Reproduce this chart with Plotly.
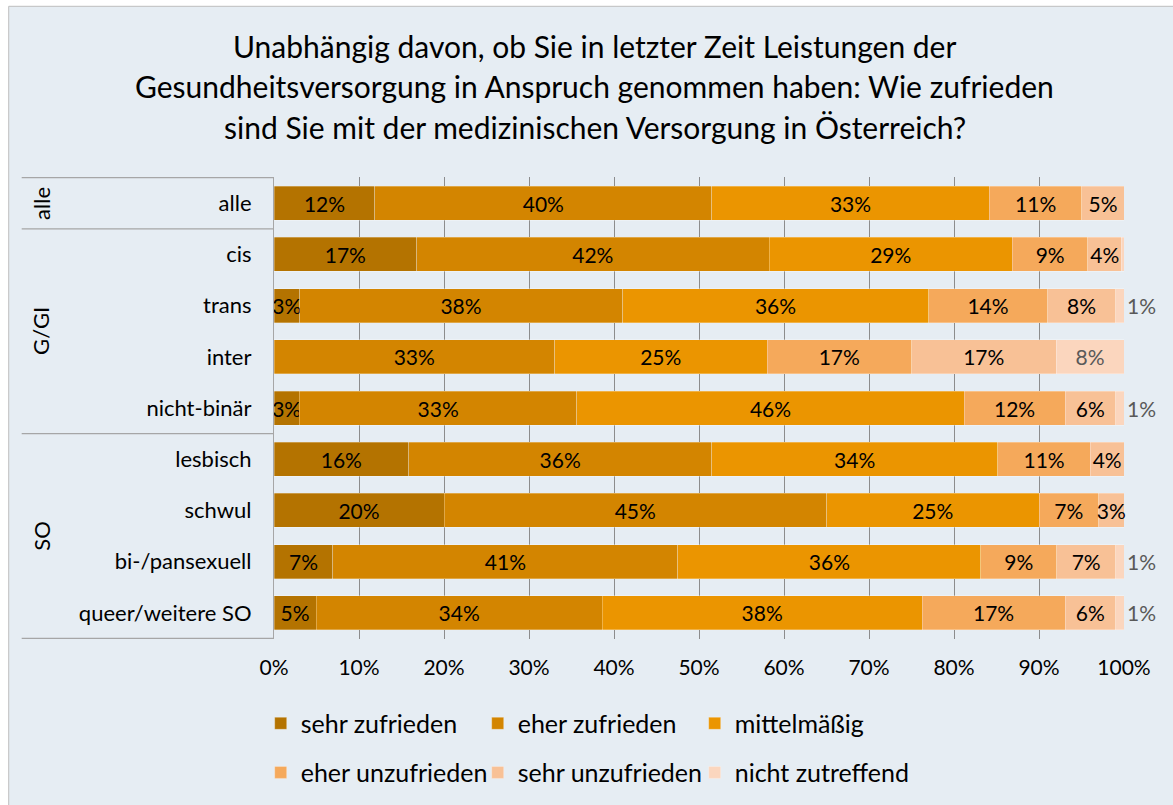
import plotly.graph_objects as go

# Rows (top to bottom) and their grouping
categories = ["alle", "cis", "trans", "inter", "nicht-binär",
              "lesbisch", "schwul", "bi-/pansexuell", "queer/weitere SO"]
group_names = ["alle", "G/GI", "SO"]
group_rows = [(0, 0), (1, 4), (5, 8)]

# Answer shares in percent per row
series_names = ["sehr zufrieden", "eher zufrieden", "mittelmäßig",
                "eher unzufrieden", "sehr unzufrieden", "nicht zutreffend"]
sehr_zufrieden = [12, 17, 3, 0, 3, 16, 20, 7, 5]
eher_zufrieden = [40, 42, 38, 33, 33, 36, 45, 41, 34]
mittelmaessig = [33, 29, 36, 25, 46, 34, 25, 36, 38]
eher_unzufrieden = [11, 9, 14, 17, 12, 11, 7, 9, 17]
sehr_unzufrieden = [5, 4, 8, 17, 6, 4, 3, 7, 6]
nicht_zutreffend = [0, 0.3, 1, 8, 1, 0, 0, 1, 1]

x_ticks = list(range(0, 101, 10))
x_tick_labels = [f"{t}%" for t in x_ticks]

series_values = [sehr_zufrieden, eher_zufrieden, mittelmaessig,
                 eher_unzufrieden, sehr_unzufrieden, nicht_zutreffend]
colors = ["#B47300", "#D38500", "#EB9500", "#F5A95B", "#F8C196", "#FBD6BE"]
text_colors = ["#000000"] * 5 + ["#595959"]

W, H = 1173, 805
PL, PR, PT, PB = 274.3, 1124.3, 177.4, 638.6  # plot area in pixels
FONT = "Lato"
BG = "#E6EDF3"
LINE = "#A6A6A6"


def px_x(p):
    return (p - PL) / (PR - PL)


def px_y(p):
    return (PB - p) / (PB - PT)


fig = go.Figure()
last = len(series_names) - 1
for i, (name, vals) in enumerate(zip(series_names, series_values)):
    # very thin end segments carry their label just past the bar end
    positions = ["outside" if (i == last and v < 2) else "inside" for v in vals]
    fig.add_trace(go.Bar(
        y=categories,
        x=vals,
        orientation="h",
        name=name,
        marker=dict(color=colors[i], line=dict(color="rgba(255,255,255,0.35)", width=0.8)),
        text=[f"{v:g}%" if v >= 1 else "" for v in vals],
        textposition=positions,
        insidetextanchor="middle",
        textangle=0,
        constraintext="none",
        cliponaxis=False,
        textfont=dict(family=FONT, size=21, color=text_colors[i]),
        outsidetextfont=dict(family=FONT, size=21, color=text_colors[i]),
        legend="legend" if i < 3 else "legend2",
        hoverinfo="skip",
    ))

shapes = [
    # chart area background with frame
    dict(type="rect", xref="paper", yref="paper",
         x0=px_x(9), x1=px_x(W + 20), y0=px_y(H + 20), y1=px_y(7),
         fillcolor=BG, line=dict(color="#BFBFBF", width=1), layer="below"),
]
# horizontal separators of the row-group table on the left
for yb in [-0.5, 0.5, 4.5, 8.5]:
    shapes.append(dict(type="line", xref="paper", yref="y",
                       x0=px_x(22), x1=0, y0=yb, y1=yb,
                       line=dict(color=LINE, width=1.2)))

annotations = []
for name, (r0, r1) in zip(group_names, group_rows):
    annotations.append(dict(
        text=name, xref="paper", yref="y", x=px_x(41), y=(r0 + r1) / 2,
        textangle=-90, showarrow=False, xanchor="center", yanchor="middle",
        font=dict(family=FONT, size=22, color="#000000")))

title_lines = ["Unabhängig davon, ob Sie in letzter Zeit Leistungen der",
               "Gesundheitsversorgung in Anspruch genommen haben: Wie zufrieden",
               "sind Sie mit der medizinischen Versorgung in Österreich?"]
for k, line in enumerate(title_lines):
    annotations.append(dict(
        text=line, xref="paper", yref="paper", x=px_x(595), y=px_y(47 + 40 * k),
        showarrow=False, xanchor="center", yanchor="middle",
        font=dict(family=FONT, size=30, color="#000000")))

legend_style = dict(orientation="h", xanchor="left", yanchor="middle",
                    entrywidth=172, entrywidthmode="pixels",
                    bgcolor="rgba(0,0,0,0)", borderwidth=0,
                    font=dict(family=FONT, size=25, color="#000000"),
                    traceorder="normal")

fig.update_layout(
    width=W, height=H,
    margin=dict(l=PL, r=W - PR, t=PT, b=H - PB, autoexpand=False),
    paper_bgcolor="white",
    plot_bgcolor="rgba(0,0,0,0)",
    barmode="stack",
    barnorm="percent",
    bargap=0.336,
    shapes=shapes,
    annotations=annotations,
    legend=dict(x=px_x(261), y=px_y(723), **legend_style),
    legend2=dict(x=px_x(261), y=px_y(772), **legend_style),
    xaxis=dict(range=[0, 100], tickvals=x_ticks, ticktext=x_tick_labels,
               showgrid=True, gridcolor="#8C8C8C", gridwidth=1,
               zeroline=False, showline=False, ticks="",
               ticklabelstandoff=14,
               tickfont=dict(family=FONT, size=21, color="#000000"),
               fixedrange=True),
    yaxis=dict(autorange="reversed", showline=True, linecolor=LINE, linewidth=1.2,
               showgrid=False, ticks="", ticklabelstandoff=17,
               tickfont=dict(family=FONT, size=22, color="#000000"),
               fixedrange=True),
    showlegend=True,
)

fig.write_html("out.html")
